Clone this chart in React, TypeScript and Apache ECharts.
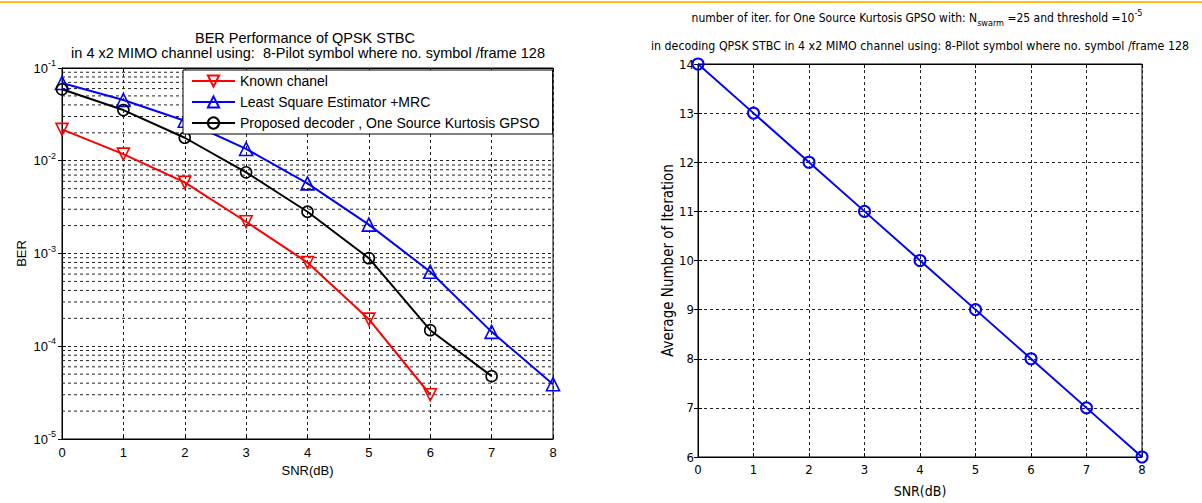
import React, { useEffect, useRef } from "react";
import * as echarts from "echarts";

// SNR sweep in dB
const SNR = [0, 1, 2, 3, 4, 5, 6, 7, 8];

// Bit error rates for the three receivers
const BER_KNOWN = [0.0218, 0.0118, 0.00585, 0.0022, 0.0008, 0.000196, 0.00003];
const BER_LS_MRC = [0.069, 0.0452, 0.027, 0.0134, 0.0057, 0.00205, 0.000635, 0.000143, 0.000039];
const BER_PROPOSED = [0.0589, 0.0352, 0.0177, 0.0075, 0.00282, 0.00089, 0.000149, 0.0000476];

// Average GPSO iterations per SNR
const AVG_ITER = [14, 13, 12, 11, 10, 9, 8, 7, 6];

// Series names
const NAME_KNOWN = "Known chanel";
const NAME_LS = "Least Square Estimator +MRC";
const NAME_PROPOSED = "Proposed decoder , One Source Kurtosis GPSO";

// Minor log grid: 2..9 within each decade
const MANTISSAS = [2, 3, 4, 5, 6, 7, 8, 9];
const DECADES = [1e-5, 1e-4, 1e-3, 1e-2];
const MINOR_BER_LINES = DECADES.flatMap((d) => MANTISSAS.map((m) => m * d));

const FONT = '"Liberation Sans", Arial, Helvetica, sans-serif';
const NARROW = '"Liberation Sans Narrow", "DejaVu Sans Condensed", "Liberation Sans", Arial, sans-serif';

const pairs = (ys: number[]) => ys.map((y, i) => [SNR[i], y]);

const dashed = { color: "#222", type: [3, 3] as number[], width: 1 };

const supRich = {
  b: { fontSize: 13, fontFamily: FONT, color: "#000" },
  sup: { fontSize: 9, fontFamily: FONT, color: "#000", padding: [0, 0, 10, 0] },
};

// Horizontal dashed lines for the 2..9 sub-decade grid, drawn through the log axis
const minorGridSeries = MINOR_BER_LINES.map((v) => ({
  type: "line" as const,
  xAxisIndex: 0,
  yAxisIndex: 0,
  data: [
    [SNR[0], v],
    [SNR[SNR.length - 1], v],
  ],
  symbol: "none",
  silent: true,
  lineStyle: dashed,
  z: 1,
}));

function buildOption(): echarts.EChartsOption {
  return {
    animation: false,
    backgroundColor: "#fff",
    textStyle: { fontFamily: FONT, color: "#000" },
    grid: [
      { left: 62, top: 68, width: 491, height: 371, show: true, borderColor: "#000", borderWidth: 1, backgroundColor: "#fff" },
      { left: 698, top: 64, width: 444, height: 393, show: true, borderColor: "#000", borderWidth: 1, backgroundColor: "#fff" },
    ],
    legend: {
      left: 183,
      top: 70,
      orient: "vertical",
      backgroundColor: "#fff",
      borderColor: "#000",
      borderWidth: 1,
      borderRadius: 0,
      padding: [4, 13, 4, 8],
      itemWidth: 43,
      itemHeight: 14,
      itemGap: 7,
      textStyle: { fontSize: 14, fontFamily: FONT, color: "#000" },
      data: [NAME_KNOWN, NAME_LS, NAME_PROPOSED],
    },
    xAxis: [
      {
        type: "value",
        gridIndex: 0,
        min: 0,
        max: 8,
        interval: 1,
        name: "SNR(dB)",
        nameLocation: "middle",
        nameGap: 21,
        nameTextStyle: { fontSize: 13, fontFamily: FONT, color: "#000" },
        axisLine: { lineStyle: { color: "#000", width: 1 } },
        axisTick: { inside: true, length: 4, lineStyle: { color: "#000" } },
        axisLabel: { fontSize: 13, color: "#000", margin: 7, fontFamily: FONT },
        splitLine: { show: true, lineStyle: dashed },
      },
      {
        type: "value",
        gridIndex: 0,
        position: "top",
        min: 0,
        max: 8,
        interval: 1,
        axisLine: { lineStyle: { color: "#000" } },
        axisTick: { inside: true, length: 4, lineStyle: { color: "#000" } },
        axisLabel: { show: false },
        splitLine: { show: false },
      },
      {
        type: "value",
        gridIndex: 1,
        min: 0,
        max: 8,
        interval: 1,
        name: "SNR(dB)",
        nameLocation: "middle",
        nameGap: 27,
        nameTextStyle: { fontSize: 14, fontFamily: NARROW, color: "#000" },
        axisLine: { lineStyle: { color: "#000", width: 1 } },
        axisTick: { inside: true, length: 4, lineStyle: { color: "#000" } },
        axisLabel: { fontSize: 13, color: "#000", margin: 6, fontFamily: NARROW },
        splitLine: { show: true, lineStyle: dashed },
      },
      {
        type: "value",
        gridIndex: 1,
        position: "top",
        min: 0,
        max: 8,
        interval: 1,
        axisLine: { lineStyle: { color: "#000" } },
        axisTick: { inside: true, length: 4, lineStyle: { color: "#000" } },
        axisLabel: { show: false },
        splitLine: { show: false },
      },
    ],
    yAxis: [
      {
        type: "log",
        logBase: 10,
        gridIndex: 0,
        min: 1e-5,
        max: 1e-1,
        splitNumber: 4,
        name: "BER",
        nameLocation: "middle",
        nameGap: 34,
        nameTextStyle: { fontSize: 13, fontFamily: FONT, color: "#000" },
        axisLine: { lineStyle: { color: "#000", width: 1 } },
        axisTick: { inside: true, length: 4, lineStyle: { color: "#000" } },
        axisLabel: {
          margin: 6,
          formatter: (v: number) => "{b|10}{sup|" + Math.round(Math.log10(v)) + "}",
          rich: supRich,
        },
        splitLine: { show: true, lineStyle: dashed },
      },
      {
        type: "log",
        logBase: 10,
        gridIndex: 0,
        position: "right",
        min: 1e-5,
        max: 1e-1,
        splitNumber: 4,
        axisLine: { lineStyle: { color: "#000" } },
        axisTick: { inside: true, length: 4, lineStyle: { color: "#000" } },
        axisLabel: { show: false },
        splitLine: { show: false },
      },
      {
        type: "value",
        gridIndex: 1,
        min: 6,
        max: 14,
        interval: 1,
        name: "Average Number of Iteration",
        nameLocation: "middle",
        nameGap: 22,
        nameTextStyle: { fontSize: 15, fontFamily: NARROW, color: "#000" },
        axisLine: { lineStyle: { color: "#000", width: 1 } },
        axisTick: { inside: true, length: 4, lineStyle: { color: "#000" } },
        axisLabel: { fontSize: 13, color: "#000", margin: 4, fontFamily: NARROW },
        splitLine: { show: true, lineStyle: dashed },
      },
      {
        type: "value",
        gridIndex: 1,
        position: "right",
        min: 6,
        max: 14,
        interval: 1,
        axisLine: { lineStyle: { color: "#000" } },
        axisTick: { inside: true, length: 4, lineStyle: { color: "#000" } },
        axisLabel: { show: false },
        splitLine: { show: false },
      },
    ],
    series: [
      ...minorGridSeries,
      {
        name: NAME_KNOWN,
        type: "line",
        xAxisIndex: 0,
        yAxisIndex: 0,
        data: pairs(BER_KNOWN),
        symbol: "triangle",
        symbolRotate: 180,
        symbolSize: 12,
        lineStyle: { color: "#ff0000", width: 2 },
        itemStyle: { color: "rgba(255,255,255,0)", borderColor: "#ff0000", borderWidth: 1.6 },
        z: 3,
      },
      {
        name: NAME_LS,
        type: "line",
        xAxisIndex: 0,
        yAxisIndex: 0,
        data: pairs(BER_LS_MRC),
        symbol: "triangle",
        symbolSize: 13,
        lineStyle: { color: "#0000ff", width: 2 },
        itemStyle: { color: "rgba(255,255,255,0)", borderColor: "#0000ff", borderWidth: 1.6 },
        z: 3,
      },
      {
        name: NAME_PROPOSED,
        type: "line",
        xAxisIndex: 0,
        yAxisIndex: 0,
        data: pairs(BER_PROPOSED),
        symbol: "circle",
        symbolSize: 11,
        lineStyle: { color: "#000000", width: 2 },
        itemStyle: { color: "rgba(255,255,255,0)", borderColor: "#000000", borderWidth: 1.6 },
        z: 3,
      },
      {
        name: "Average iterations",
        type: "line",
        xAxisIndex: 2,
        yAxisIndex: 2,
        data: pairs(AVG_ITER),
        symbol: "circle",
        symbolSize: 11,
        lineStyle: { color: "#0000ff", width: 2 },
        itemStyle: { color: "rgba(255,255,255,0)", borderColor: "#0000ff", borderWidth: 2 },
        z: 3,
      },
    ],
    graphic: [
      {
        type: "rect",
        left: 0,
        top: 1,
        shape: { width: 1202, height: 2 },
        style: { fill: "#FDBF10" },
        silent: true,
      },
      {
        type: "text",
        x: 305,
        y: 38,
        style: {
          text: "BER Performance of QPSK STBC",
          font: "14.5px " + FONT,
          fill: "#000",
          align: "center",
          verticalAlign: "middle",
        },
      },
      {
        type: "text",
        x: 308,
        y: 53,
        style: {
          text: "in 4 x2 MIMO channel using:  8-Pilot symbol where no. symbol /frame 128",
          font: "14.5px " + FONT,
          fill: "#000",
          align: "center",
          verticalAlign: "middle",
        },
      },
      {
        type: "text",
        x: 917,
        y: 18,
        style: {
          text: "{t|number of iter. for One Source Kurtosis GPSO with: N}{sub|swarm}{t| =25 and threshold =10}{sup|-5}",
          align: "center",
          verticalAlign: "middle",
          rich: {
            t: { fontSize: 12, fontFamily: NARROW, fill: "#000" },
            sub: { fontSize: 9, fontFamily: NARROW, fill: "#000", padding: [9, 0, 0, 0] },
            sup: { fontSize: 9, fontFamily: NARROW, fill: "#000", padding: [0, 0, 10, 0] },
          },
        },
      },
      {
        type: "text",
        x: 920,
        y: 46,
        style: {
          text: "in decoding QPSK STBC in 4 x2 MIMO channel using: 8-Pilot symbol where no. symbol /frame 128",
          font: "12.3px " + NARROW,
          fill: "#000",
          align: "center",
          verticalAlign: "middle",
        },
      },
    ],
  };
}

export default function App() {
  const ref = useRef<HTMLDivElement>(null);
  useEffect(() => {
    document.body.style.margin = "0";
    if (!ref.current) return;
    const chart = echarts.init(ref.current, undefined, { renderer: "svg" });
    chart.setOption(buildOption());
    return () => chart.dispose();
  }, []);
  return <div ref={ref} style={{ width: 1202, height: 503, background: "#fff" }} />;
}
